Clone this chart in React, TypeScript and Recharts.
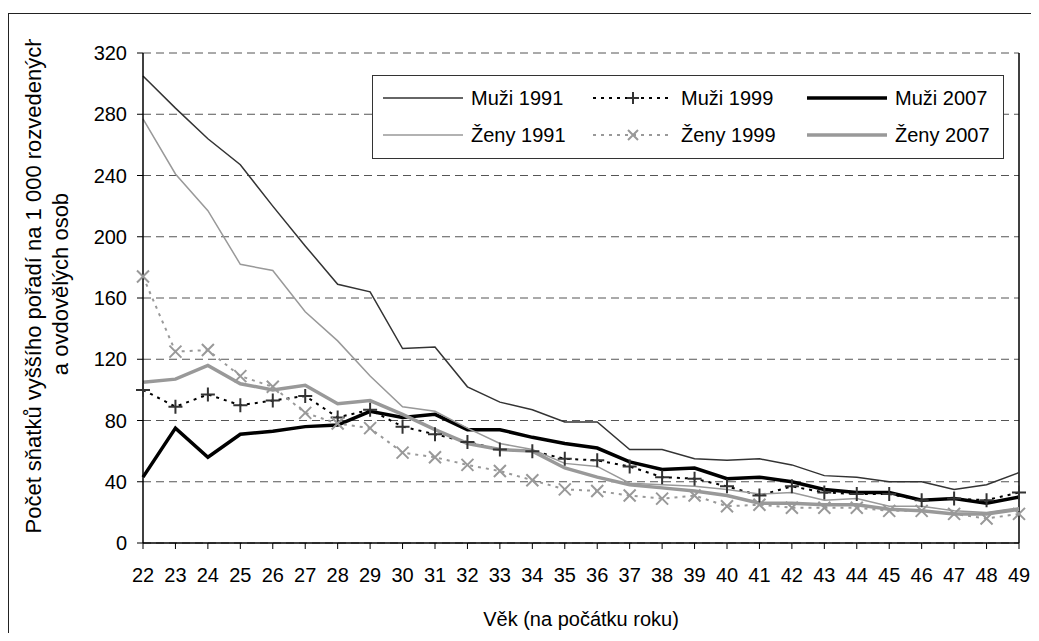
import React from 'react';
import { CartesianGrid, Line, LineChart, ReferenceLine, XAxis, YAxis } from 'recharts';

const ages = [22, 23, 24, 25, 26, 27, 28, 29, 30, 31, 32, 33, 34, 35, 36, 37, 38, 39, 40, 41, 42, 43, 44, 45, 46, 47, 48, 49];

const muzi1991 = [305, 284, 264, 247, 220, 194, 169, 164, 127, 128, 102, 92, 87, 79, 79, 61, 61, 55, 54, 55, 51, 44, 43, 40, 40, 35, 38, 46];
const muzi1999 = [100, 89, 97, 90, 93, 96, 82, 87, 76, 71, 66, 61, 60, 55, 54, 50, 43, 42, 37, 31, 37, 33, 32, 32, 28, 29, 28, 33];
const muzi2007 = [43, 75, 56, 71, 73, 76, 77, 86, 82, 84, 74, 74, 69, 65, 62, 53, 48, 49, 42, 43, 40, 35, 33, 33, 28, 29, 26, 30];
const zeny1991 = [277, 241, 217, 182, 178, 151, 132, 109, 89, 86, 75, 65, 61, 52, 50, 39, 38, 37, 35, 32, 33, 28, 29, 24, 24, 21, 20, 23];
const zeny1999 = [174, 125, 126, 109, 102, 85, 78, 75, 59, 56, 51, 47, 41, 35, 34, 31, 29, 31, 24, 25, 23, 23, 23, 21, 21, 19, 16, 19];
const zeny2007 = [105, 107, 116, 104, 100, 103, 91, 93, 84, 74, 65, 61, 60, 49, 43, 38, 36, 34, 31, 26, 26, 25, 25, 22, 21, 19, 19, 22];

const yTicks = [0, 40, 80, 120, 160, 200, 240, 280, 320];

const data = ages.map((age, i) => ({
  age,
  m1991: muzi1991[i],
  m1999: muzi1999[i],
  m2007: muzi2007[i],
  z1991: zeny1991[i],
  z1999: zeny1999[i],
  z2007: zeny2007[i],
}));

const FONT = '"Liberation Sans", Arial, sans-serif';
const DARK = '#333';
const GRAY = '#999';

const PlusDot = (props: any) => {
  const { cx, cy, index } = props;
  if (cx == null || cy == null) return <g key={index} />;
  return <path key={index} d={`M${cx - 7},${cy}h14M${cx},${cy - 7}v14`} stroke={DARK} strokeWidth={2} fill="none" />;
};

const CrossDot = (props: any) => {
  const { cx, cy, index } = props;
  if (cx == null || cy == null) return <g key={index} />;
  return (
    <path
      key={index}
      d={`M${cx - 6},${cy - 6}L${cx + 6},${cy + 6}M${cx + 6},${cy - 6}L${cx - 6},${cy + 6}`}
      stroke={GRAY}
      strokeWidth={2}
      fill="none"
    />
  );
};

// legend rows, same order as in the chart
const legendItems = [
  { name: 'Muži 1991', color: DARK, width: 1.5, dash: undefined, marker: null },
  { name: 'Muži 1999', color: '#000', width: 2, dash: '3 5', marker: 'plus' },
  { name: 'Muži 2007', color: '#000', width: 3.5, dash: undefined, marker: null },
  { name: 'Ženy 1991', color: GRAY, width: 1.5, dash: undefined, marker: null },
  { name: 'Ženy 1999', color: GRAY, width: 2, dash: '3 5', marker: 'cross' },
  { name: 'Ženy 2007', color: GRAY, width: 3.5, dash: undefined, marker: null },
];

function LegendBox() {
  const colX = [10, 220, 434];
  const rowY = [20, 57];
  return (
    <div
      style={{
        position: 'absolute',
        left: 364,
        top: 67,
        width: 630,
        height: 82,
        border: `1px solid ${DARK}`,
        background: '#fff',
        fontFamily: FONT,
        fontSize: 20,
      }}
    >
      {legendItems.map((it, i) => {
        const x = colX[i % 3];
        const y = rowY[Math.floor(i / 3)] + 2;
        return (
          <div key={it.name} style={{ position: 'absolute', left: x, top: y - 12, height: 24, display: 'flex', alignItems: 'center' }}>
            <svg width={80} height={24}>
              <line x1={0} x2={80} y1={12} y2={12} stroke={it.color} strokeWidth={it.width} strokeDasharray={it.dash} />
              {it.marker === 'plus' && <path d="M34,12h12M40,6v12" stroke={DARK} strokeWidth={2} />}
              {it.marker === 'cross' && <path d="M35,7L45,17M45,7L35,17" stroke={GRAY} strokeWidth={2} />}
            </svg>
            <span style={{ marginLeft: 8, whiteSpace: 'nowrap' }}>{it.name}</span>
          </div>
        );
      })}
    </div>
  );
}

export default function App() {
  return (
    <div style={{ position: 'relative', width: 1023, height: 625, fontFamily: FONT }}>
      <div
        style={{
          position: 'absolute',
          left: 0,
          top: 5,
          width: 1031,
          height: 628,
          borderTop: '1px solid #222',
          borderLeft: '1px solid #222',
          boxSizing: 'border-box',
        }}
      />
      <LineChart width={1023} height={625} data={data} margin={{ top: 45, right: 12, bottom: 50, left: 0 }}>
        <CartesianGrid vertical={false} stroke="#555" strokeDasharray="8 5" />
        <XAxis
          dataKey="age"
          interval={0}
          height={40}
          tickSize={6}
          tickMargin={19}
          axisLine={{ stroke: '#000', strokeWidth: 1.5 }}
          tickLine={{ stroke: '#000' }}
          tick={{ fill: '#000', fontSize: 20, fontFamily: FONT }}
        />
        <YAxis
          domain={[0, 320]}
          ticks={yTicks}
          width={135}
          tickSize={6}
          tickMargin={10}
          axisLine={{ stroke: '#000', strokeWidth: 1.5 }}
          tickLine={{ stroke: '#000' }}
          tick={{ fill: '#000', fontSize: 20, fontFamily: FONT }}
        />
        <ReferenceLine x={49} stroke="#000" strokeWidth={1.5} />
        <Line dataKey="m1991" stroke={DARK} strokeWidth={1.5} dot={false} isAnimationActive={false} />
        <Line dataKey="m1999" stroke="#000" strokeWidth={2} strokeDasharray="3 5" dot={PlusDot} isAnimationActive={false} />
        <Line dataKey="m2007" stroke="#000" strokeWidth={3.5} dot={false} isAnimationActive={false} />
        <Line dataKey="z1991" stroke={GRAY} strokeWidth={1.5} dot={false} isAnimationActive={false} />
        <Line dataKey="z1999" stroke={GRAY} strokeWidth={2} strokeDasharray="3 5" dot={CrossDot} isAnimationActive={false} />
        <Line dataKey="z2007" stroke={GRAY} strokeWidth={3.5} dot={false} isAnimationActive={false} />
      </LineChart>
      <LegendBox />
      <div style={{ position: 'absolute', left: 6, top: 31, width: 76, height: 527, overflow: 'hidden' }}>
        <div
          style={{
            position: 'absolute',
            left: 34 - 280,
            top: 245 - 28,
            width: 560,
            height: 56,
            lineHeight: '27px',
            fontSize: 22,
            textAlign: 'center',
            whiteSpace: 'nowrap',
            transform: 'rotate(-90deg)',
          }}
        >
          Počet sňatků vyššího pořadí na 1 000 rozvedených
          <br />
          a ovdovělých osob
        </div>
      </div>
      <div style={{ position: 'absolute', left: 135, width: 876, top: 600, textAlign: 'center', fontSize: 20 }}>
        Věk (na počátku roku)
      </div>
    </div>
  );
}
